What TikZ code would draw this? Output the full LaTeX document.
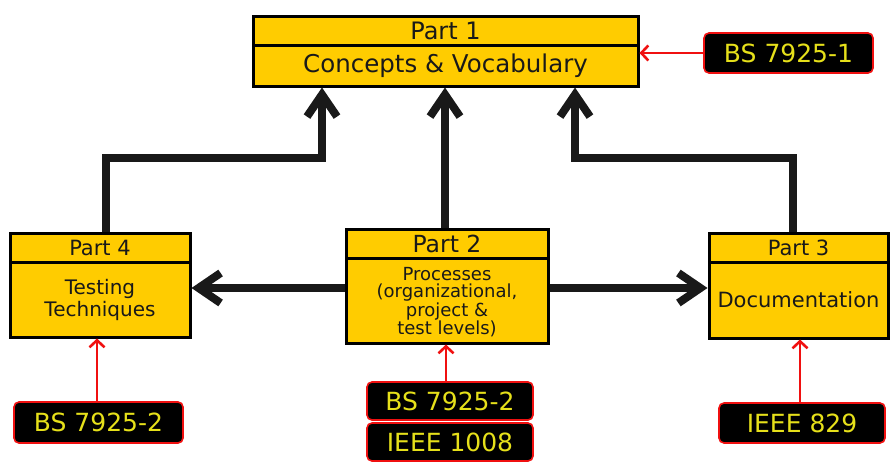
\documentclass[tikz,border=0pt]{standalone}
\usepackage{fontspec}
\setmainfont{DejaVu Sans}
\usetikzlibrary{arrows.meta}
\definecolor{partyellow}{HTML}{FFCC00}
\definecolor{labelyellow}{HTML}{E6E01A}
\definecolor{linkred}{HTML}{F01010}
\begin{document}
\begin{tikzpicture}[x=1pt,y=-1pt,
  partbox/.style={draw=black, line width=3pt, fill=partyellow, inner sep=0pt,
    align=center, text=black!90},
  stdlabel/.style={draw=linkred, line width=1.6pt, fill=black, rounded corners=5pt,
    text=labelyellow, font=\fontsize{25}{27}\selectfont, inner sep=0pt},
  bigarrow/.style={line width=8pt, draw=black!90,
    -{Straight Barb[length=22pt, width=30pt, line width=8pt]}},
  redarrow/.style={line width=2.6pt, draw=linkred,
    -{Straight Barb[length=7pt, width=15pt, line width=2.6pt]}}]
\useasboundingbox (0,0) rectangle (890,461);

% Part 1
\node[partbox, minimum width=385pt, minimum height=29pt, font=\fontsize{24}{26}\selectfont]
  (p1h) at (445.5,30.5) {Part 1};
\node[partbox, minimum width=385pt, minimum height=41pt, font=\fontsize{24.5}{26}\selectfont]
  (p1b) at (445.5,65.5) {Concepts \& Vocabulary};

% Part 4
\node[partbox, minimum width=180pt, minimum height=75pt, font=\fontsize{20}{22}\selectfont]
  (p4b) at (100,299.5) {Testing\\Techniques};
\node[partbox, minimum width=180pt, minimum height=29pt, font=\fontsize{21}{23}\selectfont]
  (p4h) at (100,247.5) {Part 4};

% Part 2
\node[partbox, minimum width=202pt, minimum height=85pt, font=\fontsize{18}{17}\selectfont]
  (p2b) at (447,300.5) {\rule{0pt}{8pt}\\[-8pt]Processes\\(organizational,\\project \&\\test levels)};
\node[partbox, minimum width=202pt, minimum height=29pt, font=\fontsize{23.5}{25}\selectfont]
  (p2h) at (447,243.5) {Part 2};

% Part 3
\node[partbox, minimum width=179pt, minimum height=76pt, font=\fontsize{21}{23}\selectfont]
  (p3b) at (798.5,300) {Documentation};
\node[partbox, minimum width=179pt, minimum height=29pt, font=\fontsize{21}{23}\selectfont]
  (p3h) at (798.5,247.5) {Part 3};

% standards
\node[stdlabel, minimum width=169pt, minimum height=40pt] (l1) at (788.5,53) {BS 7925-1};
\node[stdlabel, minimum width=169pt, minimum height=41pt] (l4) at (98.5,422.5) {BS 7925-2};
\node[stdlabel, minimum width=166pt, minimum height=38pt] (l2a) at (450,401) {BS 7925-2};
\node[stdlabel, minimum width=166pt, minimum height=38pt] (l2b) at (450,442) {IEEE 1008};
\node[stdlabel, minimum width=166pt, minimum height=40pt] (l3) at (802,423) {IEEE 829};

% links to Part 1
\coordinate (k4) at (322,158);
\coordinate (k3) at (575,158);
\draw[bigarrow] (p4h.north -| 106,0) |- (k4) -- (k4 |- p1b.south);
\draw[bigarrow] (p2h.north -| 445,0) -- (p1b.south -| 445,0);
\draw[bigarrow] (p3h.north -| 793,0) |- (k3) -- (k3 |- p1b.south);

% links from Part 2
\coordinate (hz) at (0,288);
\draw[bigarrow] (p2b.west |- hz) -- (p4b.east |- hz);
\draw[bigarrow] (p2b.east |- hz) -- (p3b.west |- hz);

% standards to parts
\draw[redarrow] (l1.west) -- (p1b.east |- l1.west);
\draw[redarrow] (l4.north -| 97,0) -- (p4b.south -| 97,0);
\draw[redarrow] (l2a.north -| 446,0) -- (p2b.south -| 446,0);
\draw[redarrow] (l3.north -| 800,0) -- (p3b.south -| 800,0);
\end{tikzpicture}
\end{document}
